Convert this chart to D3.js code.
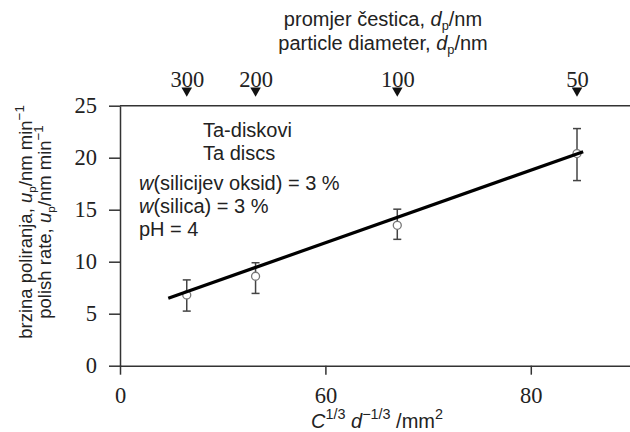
<!DOCTYPE html>
<html>
<head>
<meta charset="utf-8">
<script src="https://cdn.jsdelivr.net/npm/d3@7"></script>
<style>
  body { margin: 0; background: #fff; }
  text { fill: #222; }
</style>
</head>
<body>
<script>
// values
const xValues = [46.5, 53.2, 67.0, 84.5];        // C^1/3 d^-1/3
const diameters = ["300", "200", "100", "50"];   // particle diameter, nm (top axis)
const rates = [6.8, 8.6, 13.5, 20.4];            // polish rate, nm/min
const errLow = [5.25, 6.95, 12.15, 17.8];
const errHigh = [8.25, 9.9, 15.05, 22.8];
const fitX = [44.7, 85.1];
const fitY = [6.48, 20.58];
const xTicks = [40, 60, 80];
const xTickLabels = ["0", "60", "80"];           // origin is labelled "0" in the original
const yTicks = [0, 5, 10, 15, 20, 25];

const width = 630;
const height = 432;
const margin = {top: 105.7, right: 0, bottom: 66.3, left: 120};

const sans = "'Liberation Sans', Arial, sans-serif";
const serif = "'Liberation Serif', 'Times New Roman', serif";

const svg = d3.select('body')
    .append('svg')
    .attr('width', width)
    .attr('height', height);

const x = d3.scaleLinear()
    .domain([40, 89.66])
    .range([margin.left, width - margin.right]);

const y = d3.scaleLinear()
    .domain([0, 25])
    .range([height - margin.bottom, margin.top]);

function styleAxis(g) {
    g.attr('font-family', serif).attr('font-size', 22.5);
    g.selectAll('path, line').attr('stroke', '#333').attr('stroke-width', 1.5);
    g.selectAll('text').attr('fill', '#1a1a1a');
}

// text with italic / sub / superscript parts
function richText(sel, parts, size) {
    parts.forEach(p => {
        const t = sel.append('tspan').text(p.t);
        if (p.i) t.attr('font-style', 'italic');
        if (p.sub) t.attr('font-size', size * 0.64).attr('dy', size * 0.22);
        if (p.sup) t.attr('font-size', size * 0.72).attr('dy', -size * 0.45);
        if (p.back) t.attr('dy', p.back * size);
    });
}

// top border
svg.append('line')
    .attr('x1', x.range()[0]).attr('x2', x.range()[1])
    .attr('y1', y(25)).attr('y2', y(25))
    .attr('stroke', '#333').attr('stroke-width', 1.5);

// x axis
svg.append('g')
    .attr('transform', `translate(0,${y(0)})`)
    .call(d3.axisBottom(x).tickValues(xTicks)
        .tickFormat((d, i) => xTickLabels[i])
        .tickSizeInner(9).tickSizeOuter(0).tickPadding(12))
    .call(styleAxis);

// y axis
svg.append('g')
    .attr('transform', `translate(${x(40)},0)`)
    .call(d3.axisLeft(y).tickValues(yTicks)
        .tickSizeInner(11).tickSizeOuter(0).tickPadding(12))
    .call(styleAxis);

// top axis: particle diameters with markers
const topAxis = svg.append('g')
    .attr('transform', `translate(0,${y(25)})`)
    .call(d3.axisTop(x).tickValues(xValues)
        .tickFormat((d, i) => diameters[i])
        .tickSize(0).tickPadding(19))
    .call(styleAxis);
topAxis.select('.domain').remove();

svg.selectAll('path.marker')
    .data(xValues)
    .enter()
    .append('path')
    .attr('class', 'marker')
    .attr('d', d3.symbol(d3.symbolTriangle).size(48))
    .attr('transform', d => `translate(${x(d)},90.6) rotate(180)`)
    .attr('fill', '#111');

// error bars
const err = svg.append('g').attr('stroke', '#444').attr('stroke-width', 1.5);
xValues.forEach((xv, i) => {
    err.append('line')
        .attr('x1', x(xv)).attr('x2', x(xv))
        .attr('y1', y(errLow[i])).attr('y2', y(errHigh[i]));
    [errLow[i], errHigh[i]].forEach(v => {
        err.append('line')
            .attr('x1', x(xv) - 4).attr('x2', x(xv) + 4)
            .attr('y1', y(v)).attr('y2', y(v));
    });
});

// points
svg.selectAll('circle')
    .data(xValues)
    .enter()
    .append('circle')
    .attr('cx', d => x(d))
    .attr('cy', (d, i) => y(rates[i]))
    .attr('r', 4)
    .attr('fill', '#fff')
    .attr('stroke', '#777')
    .attr('stroke-width', 1.3);

// fitted line
svg.append('path')
    .datum(fitX.map((d, i) => [d, fitY[i]]))
    .attr('d', d3.line().x(d => x(d[0])).y(d => y(d[1])))
    .attr('stroke', '#000')
    .attr('stroke-width', 3.2)
    .attr('fill', 'none');

// top title
const t1 = svg.append('text').attr('x', 383).attr('y', 26)
    .attr('text-anchor', 'middle').attr('font-family', sans).attr('font-size', 20);
richText(t1, [{t: 'promjer čestica, '}, {t: 'd', i: true}, {t: 'p', sub: true}, {t: '/nm', back: -0.22}], 20);
const t2 = svg.append('text').attr('x', 383).attr('y', 50)
    .attr('text-anchor', 'middle').attr('font-family', sans).attr('font-size', 20);
richText(t2, [{t: 'particle diameter, '}, {t: 'd', i: true}, {t: 'p', sub: true}, {t: '/nm', back: -0.22}], 20);

// x axis title
const xt = svg.append('text').attr('x', 377).attr('y', 428)
    .attr('text-anchor', 'middle').attr('font-family', sans).attr('font-size', 20);
richText(xt, [
    {t: 'C', i: true}, {t: '1/3', sup: true},
    {t: ' ', back: 0.45}, {t: 'd', i: true}, {t: '−1/3', sup: true},
    {t: ' /', back: 0.45}, {t: 'mm'}, {t: '2', sup: true}
], 20);

// y axis title, two lines
const yl1 = svg.append('text')
    .attr('transform', 'translate(32,222) rotate(-90)')
    .attr('text-anchor', 'middle').attr('font-family', sans).attr('font-size', 18.5);
richText(yl1, [{t: 'brzina poliranja, '}, {t: 'u', i: true}, {t: 'p', sub: true},
    {t: '/nm min', back: -0.22}, {t: '−1', sup: true}], 18.5);
const yl2 = svg.append('text')
    .attr('transform', 'translate(51,222) rotate(-90)')
    .attr('text-anchor', 'middle').attr('font-family', sans).attr('font-size', 18.5);
richText(yl2, [{t: 'polish rate, '}, {t: 'u', i: true}, {t: 'p', sub: true},
    {t: '/nm min', back: -0.22}, {t: '−1', sup: true}], 18.5);

// annotations inside the plot
const notes = svg.append('g').attr('font-family', sans).attr('font-size', 20);
notes.append('text').attr('x', 203).attr('y', 137).text('Ta-diskovi');
notes.append('text').attr('x', 203).attr('y', 160).text('Ta discs');
const n1 = notes.append('text').attr('x', 139).attr('y', 190);
richText(n1, [{t: 'w', i: true}, {t: '(silicijev oksid) = 3 %'}], 20);
const n2 = notes.append('text').attr('x', 139).attr('y', 213);
richText(n2, [{t: 'w', i: true}, {t: '(silica) = 3 %'}], 20);
notes.append('text').attr('x', 139).attr('y', 236).text('pH = 4');
</script>
</body>
</html>
